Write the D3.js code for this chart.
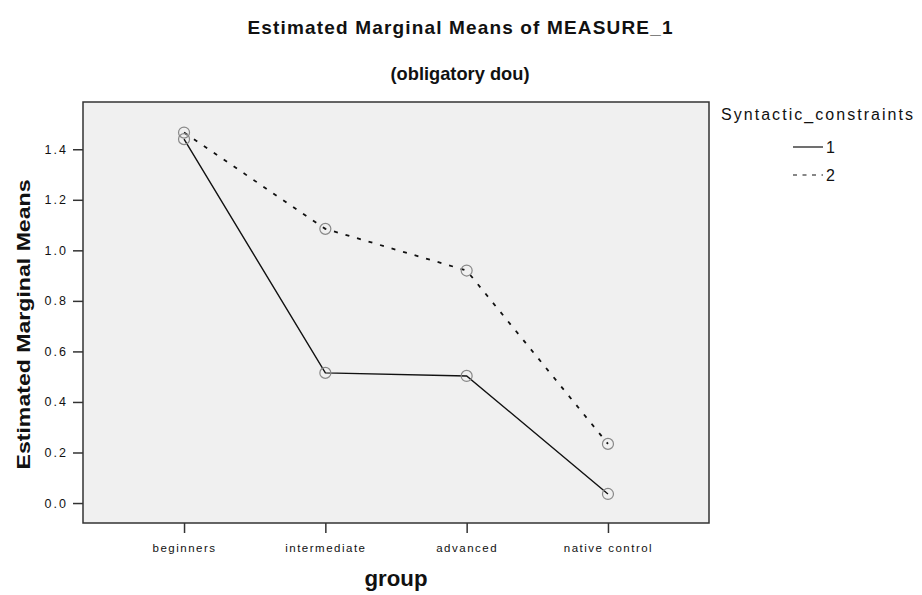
<!DOCTYPE html>
<html><head><meta charset="utf-8">
<script src="https://cdn.jsdelivr.net/npm/d3@7"></script>
<style>body{margin:0;background:#fff}svg{display:block}</style>
</head><body>
<script>
const categories = ["beginners", "intermediate", "advanced", "native control"];
const series1 = [1.440, 0.515, 0.503, 0.036];
const series2 = [1.466, 1.085, 0.920, 0.234];
const seriesNames = ["1", "2"];
const yTicks = [0.0, 0.2, 0.4, 0.6, 0.8, 1.0, 1.2, 1.4];
const title = "Estimated Marginal Means of MEASURE_1";
const subtitle = "(obligatory dou)";
const xTitle = "group";
const yTitle = "Estimated Marginal Means";
const legendTitle = "Syntactic_constraints";

const W = 922, H = 595;
const L = 83, R = 709, T = 102, B = 523;
const FONT = "Liberation Sans, Arial, sans-serif";
const svg = d3.select("body").append("svg").attr("width", W).attr("height", H);

const x = d3.scalePoint().domain(categories).range([L, R]).padding(0.715);
const y = d3.scaleLinear().domain([-0.079, 1.587]).range([B, T]);

svg.append("rect").attr("x", L).attr("y", T).attr("width", R - L).attr("height", B - T)
  .attr("fill", "#f0f0f0").attr("stroke", "#333").attr("stroke-width", 1.5);

// axes
const yAxis = d3.axisLeft(y).tickValues(yTicks).tickFormat(d3.format(".1f")).tickSize(10).tickPadding(5);
const gy = svg.append("g").attr("transform", `translate(${L},0)`).call(yAxis);
gy.select(".domain").remove();
gy.selectAll("line").attr("stroke", "#333").attr("stroke-width", 1.5);
gy.selectAll("text").attr("font-family", FONT).attr("font-size", 12.5)
  .attr("fill", "#111").attr("letter-spacing", 2);

const xAxis = d3.axisBottom(x).tickSize(10).tickPadding(11);
const gx = svg.append("g").attr("transform", `translate(0,${B})`).call(xAxis);
gx.select(".domain").remove();
gx.selectAll("line").attr("stroke", "#333").attr("stroke-width", 1.5);
gx.selectAll("text").attr("font-family", FONT).attr("font-size", 11.5)
  .attr("fill", "#111").attr("letter-spacing", 1.5);

// lines
const line = d3.line().x((d, i) => x(categories[i])).y(d => y(d));
svg.append("path").datum(series1).attr("d", line).attr("fill", "none")
  .attr("stroke", "#111").attr("stroke-width", 1.4);
svg.append("path").datum(series2).attr("d", line).attr("fill", "none")
  .attr("stroke", "#111").attr("stroke-width", 1.8).attr("stroke-dasharray", "4,8");

[series1, series2].forEach(s => {
  svg.append("g").selectAll("circle").data(s).join("circle")
    .attr("cx", (d, i) => x(categories[i])).attr("cy", d => y(d)).attr("r", 5.5)
    .attr("fill", "none").attr("stroke", "#888").attr("stroke-width", 1.2);
});

// titles
svg.append("text").attr("x", 460).attr("y", 34).attr("text-anchor", "middle")
  .attr("font-family", FONT).attr("font-weight", "bold")
  .attr("font-size", 19).attr("textLength", 425).attr("lengthAdjust", "spacing")
  .attr("fill", "#111").text(title);
svg.append("text").attr("x", 460).attr("y", 80).attr("text-anchor", "middle")
  .attr("font-family", FONT).attr("font-weight", "bold")
  .attr("font-size", 19).attr("textLength", 139).attr("lengthAdjust", "spacingAndGlyphs")
  .attr("fill", "#111").text(subtitle);

svg.append("text").attr("x", (L + R) / 2).attr("y", 586).attr("text-anchor", "middle")
  .attr("font-family", FONT).attr("font-weight", "bold")
  .attr("font-size", 22).attr("textLength", 63).attr("lengthAdjust", "spacingAndGlyphs")
  .attr("fill", "#111").text(xTitle);

svg.append("text").attr("transform", `translate(30,${(T + B) / 2 + 12}) rotate(-90)`).attr("text-anchor", "middle")
  .attr("font-family", FONT).attr("font-weight", "bold")
  .attr("font-size", 19).attr("textLength", 290).attr("lengthAdjust", "spacingAndGlyphs")
  .attr("fill", "#111").text(yTitle);

// legend
svg.append("text").attr("x", 721).attr("y", 120)
  .attr("font-family", FONT).attr("font-size", 16)
  .attr("textLength", 192).attr("lengthAdjust", "spacing")
  .attr("fill", "#111").text(legendTitle);
seriesNames.forEach((n, i) => {
  const yy = 147 + i * 28;
  svg.append("line").attr("x1", 793).attr("x2", 823).attr("y1", yy).attr("y2", yy)
    .attr("stroke", "#111").attr("stroke-width", 1.2)
    .attr("stroke-dasharray", i === 1 ? "4,5.5" : null);
  svg.append("text").attr("x", 826).attr("y", yy + 6)
    .attr("font-family", FONT).attr("font-size", 16)
    .attr("fill", "#111").text(n);
});
</script>
</body></html>
